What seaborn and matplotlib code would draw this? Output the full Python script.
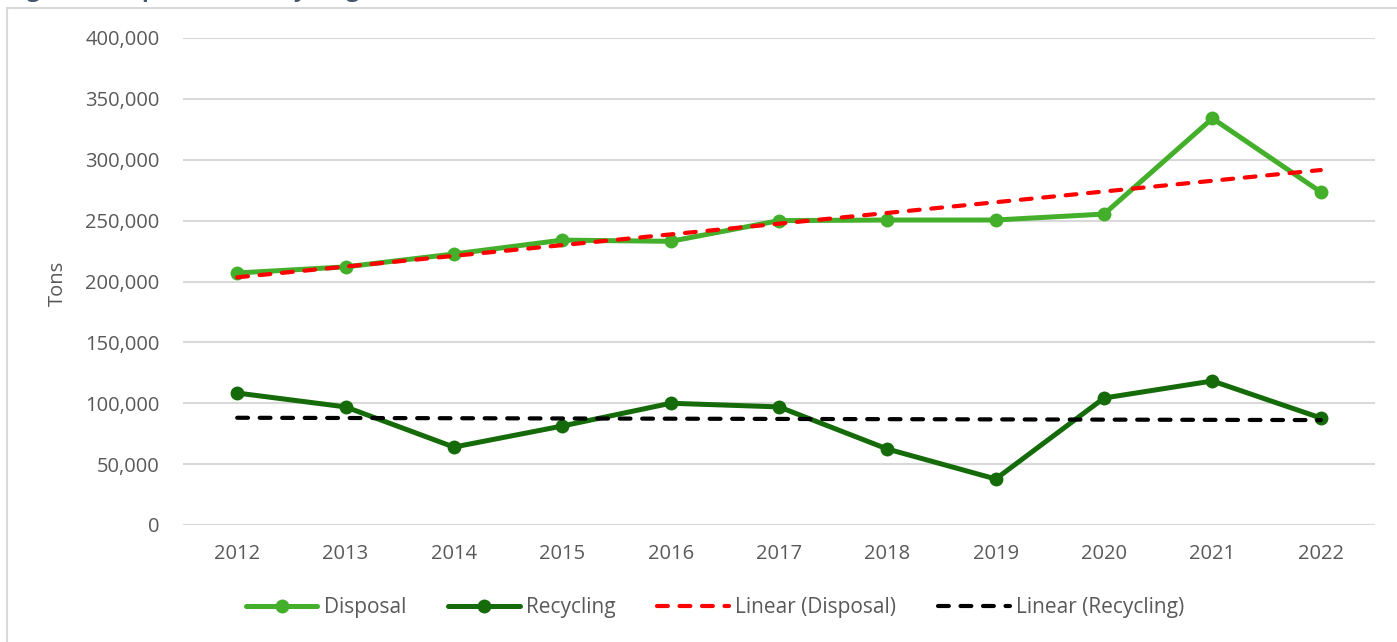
import numpy as np
import pandas as pd
import matplotlib
matplotlib.use("Agg")
import matplotlib.pyplot as plt
from matplotlib.patches import Rectangle
from matplotlib.lines import Line2D
from matplotlib.ticker import FuncFormatter, MultipleLocator
import seaborn as sns

# Annual tonnage by stream
years = [2012, 2013, 2014, 2015, 2016, 2017, 2018, 2019, 2020, 2021, 2022]
disposal = [207000, 212000, 222600, 234000, 233000, 250000, 250500, 250500, 255400, 334000, 273500]
recycling = [108400, 97000, 64000, 81300, 100000, 97000, 62400, 37800, 104300, 118300, 87900]

series_names = ["Disposal", "Recycling"]
trend_names = ["Linear (Disposal)", "Linear (Recycling)"]
title_text = "Figure 2: Disposal and Recycling Trends"
y_label = "Tons"

GREEN_LIGHT = "#44AF2B"
GREEN_DARK = "#156B0A"
TEXT_GREY = "#595959"
GRID_GREY = "#D9D9D9"

sns.set_theme(style="white")
plt.rcParams["font.family"] = ["Open Sans", "DejaVu Sans"]

df = pd.DataFrame({"Year": years, "Disposal": disposal, "Recycling": recycling})
long_df = df.melt(id_vars="Year", var_name="Stream", value_name="Tons")

# Least-squares trend lines for each stream
x = np.array(years, dtype=float)
trend_rows = []
for name, vals, tname in zip(series_names, [disposal, recycling], trend_names):
    slope, icpt = np.polyfit(x, np.array(vals, dtype=float), 1)
    for xi in x:
        trend_rows.append({"Year": xi, "Tons": slope * xi + icpt, "Trend": tname})
trend_df = pd.DataFrame(trend_rows)

fig = plt.figure(figsize=(13.97, 6.42), dpi=100)
W, H = 1397, 642

# Chart-area border (extends past the right and bottom edges)
fig.patches.append(Rectangle((7 / W, -0.1), 1.2, 1 - 8 / H + 0.1,
                             transform=fig.transFigure, fill=False,
                             edgecolor=GRID_GREY, linewidth=1.5, zorder=0))

ax = fig.add_axes([183 / W, 1 - 525 / H, (1375 - 183) / W, (525 - 38) / H])

sns.lineplot(data=long_df, x="Year", y="Tons", hue="Stream",
             palette={"Disposal": GREEN_LIGHT, "Recycling": GREEN_DARK},
             marker="o", markersize=10, markeredgewidth=0,
             linewidth=3.6, ax=ax, legend=False, zorder=3)

trend_palette = {trend_names[0]: "#FF0000", trend_names[1]: "#000000"}
sns.lineplot(data=trend_df, x="Year", y="Tons", hue="Trend",
             palette=trend_palette, linewidth=3.0, ax=ax, legend=False, zorder=4)
for ln in ax.lines[-2:]:
    ln.set_dashes([2.6, 2.8])
    ln.set_dash_capstyle("round")

ax.set_xlim(2011.5, 2022.5)
ax.set_ylim(0, 400000)
ax.yaxis.set_major_locator(MultipleLocator(50000))
ax.yaxis.set_major_formatter(FuncFormatter(lambda v, p: f"{int(v):,}"))
ax.set_xticks(years)
ax.set_xticklabels([str(y) for y in years])
ax.grid(axis="y", color=GRID_GREY, linewidth=1.5, zorder=0)
ax.set_axisbelow(True)
for s in ax.spines.values():
    s.set_visible(False)
ax.tick_params(axis="both", length=0, labelsize=14.5, labelcolor=TEXT_GREY)
ax.tick_params(axis="y", pad=17)
ax.tick_params(axis="x", pad=14)
ax.set_xlabel("")
ax.set_ylabel("")

fig.text(58 / W, 1 - 283 / H, y_label, rotation=90, ha="center", va="center",
         fontsize=14.5, color=TEXT_GREY)

# Title strip at the very top: only its lowest few pixels fall inside the canvas
fig.text(8 / W, 1 - 1.5 / H, title_text, ha="left", va="bottom",
         fontsize=16, fontweight="bold", color="#44546A")

handles = [
    Line2D([], [], color=GREEN_LIGHT, linewidth=3.6, marker="o", markersize=10, markeredgewidth=0),
    Line2D([], [], color=GREEN_DARK, linewidth=3.6, marker="o", markersize=10, markeredgewidth=0),
    Line2D([], [], color="#FF0000", linewidth=3.0, dashes=[2.6, 2.8], dash_capstyle="round"),
    Line2D([], [], color="#000000", linewidth=3.0, dashes=[2.6, 2.8], dash_capstyle="round"),
]
leg = fig.legend(handles, series_names + trend_names, loc="center",
                 bbox_to_anchor=(715 / W, 1 - 608 / H), ncol=4, frameon=False,
                 fontsize=15, handlelength=3.45, handletextpad=0.3,
                 columnspacing=2.0, labelcolor=TEXT_GREY)

fig.savefig("out.png", dpi=100)
